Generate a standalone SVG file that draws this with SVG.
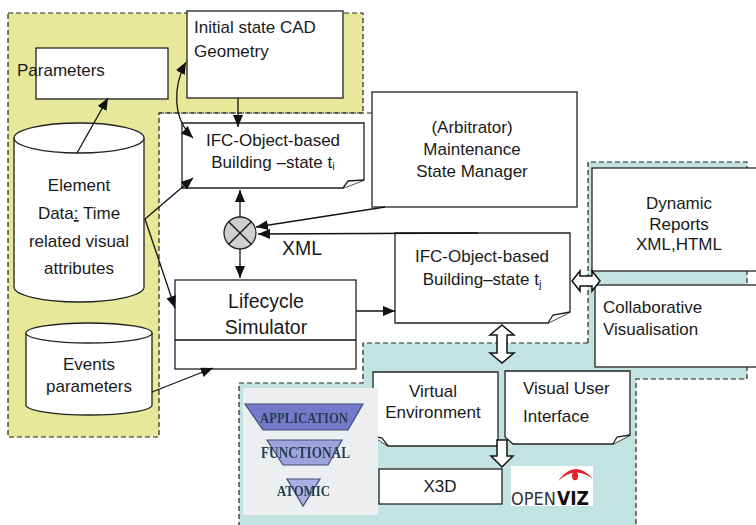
<svg xmlns="http://www.w3.org/2000/svg" width="756" height="525" viewBox="0 0 756 525">
  <style>
    .box { fill: #ffffff; stroke: #222222; stroke-width: 1.3; }
    .zone { stroke: #222222; stroke-width: 1.2; stroke-dasharray: 5 3; }
    .dash { fill: none; stroke: #222222; stroke-width: 1.2; stroke-dasharray: 5 3; }
    .wire { fill: none; stroke: #111111; stroke-width: 1.3; }
    .hollow { fill: #ffffff; stroke: #111111; stroke-width: 1.5; stroke-linejoin: miter; }
    .t { font-family: "Liberation Sans", Arial, sans-serif; font-size: 17px; fill: #1a1a1a; }
    .tc { text-anchor: middle; }
    .big { font-size: 19.5px; }
    .layer { font-family: "Liberation Serif", "Times New Roman", serif; font-weight: bold; fill: #23404f; }
    .logo { font-family: "DejaVu Sans Condensed", "Liberation Sans", sans-serif; }
  </style>
  <defs>
    <marker id="arrow" viewBox="0 0 12 10" markerWidth="12" markerHeight="10" markerUnits="userSpaceOnUse" refX="12" refY="5" orient="auto-start-reverse">
      <path d="M0,0 L12,5 L0,10 Z" fill="#111111"/>
    </marker>
    <filter id="soft" x="-5%" y="-5%" width="110%" height="110%">
      <feGaussianBlur stdDeviation="0.6"/>
    </filter>
  </defs>

  <rect x="0" y="0" width="756" height="525" fill="#ffffff"/>

  <!-- zones -->
  <g id="zones">
    <polygon class="zone" fill="#e8e89a" points="8,13 363,13 363,113 159,113 159,437 8,437"/>
    <polygon fill="#c2e3e1" points="588,162 747,162 747,379 636,379 636,525 239,525 239,383 363,383 363,343 588,343"/>
    <polyline class="dash" points="159,113 372,113"/>
    <polyline class="dash" points="588,343 588,162 747,162 747,379 636,379 636,525"/>
    <polyline class="dash" points="588,343 363,343 363,383 239,383 239,525"/>
  </g>

  <!-- nodes -->
  <g id="parameters">
    <rect class="box" x="36" y="48" width="132" height="51"/>
    <text class="t" x="17" y="76">Parameters</text>
  </g>

  <g id="initial-cad">
    <rect class="box" x="187" y="11" width="156" height="87"/>
    <text class="t" x="194" y="33">Initial state CAD</text>
    <text class="t" x="194" y="57">Geometry</text>
  </g>

  <g id="ifc-ti">
    <path class="box" d="M182,123 H364 V180 L343,188 H182 Z"/>
    <path class="box" d="M343,188 L348,181 L364,180"/>
    <text class="t tc" x="273" y="146" font-size="16.5">IFC-Object-based</text>
    <text class="t tc" x="273" y="168" font-size="16.5">Building –state t<tspan font-size="11" dy="2">i</tspan></text>
  </g>

  <g id="element-data">
    <path class="box" d="M14,138 V287 A65,15 0 0 0 144,287 V138"/>
    <ellipse class="box" cx="79" cy="138" rx="65" ry="15"/>
    <text class="t tc" x="79" y="191">Element</text>
    <text class="t tc" x="79" y="219">Data<tspan text-decoration="underline">:</tspan> Time</text>
    <text class="t tc" x="79" y="247">related visual</text>
    <text class="t tc" x="79" y="274">attributes</text>
  </g>

  <g id="events">
    <path class="box" d="M26,333 V405 A63,10 0 0 0 152,405 V333"/>
    <ellipse class="box" cx="89" cy="333" rx="63" ry="10"/>
    <text class="t tc" x="89" y="370">Events</text>
    <text class="t tc" x="89" y="392">parameters</text>
  </g>

  <g id="lifecycle">
    <rect class="box" x="175" y="280" width="181" height="89"/>
    <line class="wire" x1="175" y1="340" x2="356" y2="340"/>
    <text class="t tc big" x="266" y="308">Lifecycle</text>
    <text class="t tc big" x="266" y="334">Simulator</text>
  </g>

  <g id="mixer">
    <circle cx="240" cy="233" r="16" fill="#cfcfcf" stroke="#222222" stroke-width="1.3"/>
    <path class="wire" d="M228.7,221.7 L251.3,244.3 M251.3,221.7 L228.7,244.3"/>
  </g>

  <g id="arbitrator">
    <rect class="box" x="372" y="92" width="205" height="115"/>
    <text class="t tc" x="472" y="133">(Arbitrator)</text>
    <text class="t tc" x="472" y="155">Maintenance</text>
    <text class="t tc" x="472" y="177">State Manager</text>
  </g>

  <g id="ifc-tj">
    <path class="box" d="M395,233 H570 V312 L548,323 H395 Z"/>
    <path class="box" d="M548,323 L553,315 L570,312"/>
    <text class="t tc" x="482" y="262" font-size="16.5">IFC-Object-based</text>
    <text class="t tc" x="482" y="285" font-size="16.5">Building–state t<tspan font-size="11" dy="3">j</tspan></text>
  </g>

  <g id="dynamic-reports">
    <rect class="box" x="592" y="168" width="170" height="103"/>
    <text class="t tc" x="679" y="209">Dynamic</text>
    <text class="t tc" x="679" y="230">Reports</text>
    <text class="t tc" x="679" y="250">XML,HTML</text>
  </g>

  <g id="collaborative">
    <rect class="box" x="595" y="285" width="167" height="82"/>
    <text class="t" x="603" y="313">Collaborative</text>
    <text class="t" x="603" y="335">Visualisation</text>
  </g>

  <g id="virtual-environment">
    <path class="box" d="M373,372 H498 V446 H388 L373,436 Z"/>
    <path class="box" d="M373,436 L382,438 L388,446"/>
    <text class="t tc" x="433" y="397">Virtual</text>
    <text class="t tc" x="433" y="418">Environment</text>
  </g>

  <g id="visual-ui">
    <path class="box" d="M505,371 H630 V435 L613,444 H513 L505,437 Z"/>
    <path class="box" d="M613,444 L617,437 L630,435"/>
    <text class="t" x="523" y="394">Visual User</text>
    <text class="t" x="523" y="422">Interface</text>
  </g>

  <g id="x3d">
    <rect class="box" x="379" y="469" width="123" height="35"/>
    <text class="t tc" x="440" y="492">X3D</text>
  </g>

  <g id="openviz">
    <rect x="511" y="466" width="82" height="40" fill="#ffffff"/>
    <path d="M558,481 Q575,458 593,479 Q575,465 558,481 Z" fill="#e0242a"/>
    <ellipse cx="575" cy="476" rx="3" ry="4.2" fill="#e0242a"/>
    <text class="logo" x="511" y="505" font-size="18" fill="#333333">OPEN</text>
    <text class="logo" x="557" y="505" font-size="19" font-weight="bold" fill="#111111">VIZ</text>
  </g>

  <g id="layers" filter="url(#soft)">
    <rect x="243" y="388" width="135" height="127" fill="#eceef0"/>
    <polygon points="245,404 363,404 348,430 263,430" fill="#7479c9" stroke="#3c4d7c" stroke-width="1.2"/>
    <polygon points="267,440 342,440 328,465 283,465" fill="#9ea2dd" stroke="#3c4d7c" stroke-width="1.2"/>
    <polygon points="287,479 320,479 303,506" fill="#abafe2" stroke="#3c4d7c" stroke-width="1.2"/>
    <text class="layer" x="260" y="423" font-size="15" textLength="88" lengthAdjust="spacingAndGlyphs">APPLICATION</text>
    <text class="layer" x="261" y="458" font-size="16" textLength="89" lengthAdjust="spacingAndGlyphs">FUNCTIONAL</text>
    <text class="layer" x="277" y="496" font-size="15" textLength="53" lengthAdjust="spacingAndGlyphs">ATOMIC</text>
  </g>

  <!-- connectors -->
  <g id="connectors">
    <path class="wire" d="M77,153 L108,98" marker-end="url(#arrow)"/>
    <path class="wire" d="M186,62 C173,86 172,118 193,138" marker-start="url(#arrow)" marker-end="url(#arrow)"/>
    <path class="wire" d="M238,98 L238,127" marker-end="url(#arrow)"/>
    <path class="wire" d="M145,219 L193,178" marker-end="url(#arrow)"/>
    <path class="wire" d="M145,219 L175,308" marker-end="url(#arrow)"/>
    <path class="wire" d="M240,217 L240,190" marker-end="url(#arrow)"/>
    <path class="wire" d="M240,249 L240,278" marker-end="url(#arrow)"/>
    <path class="wire" d="M385,207 L256,227" marker-end="url(#arrow)"/>
    <path class="wire" d="M478,233 L258,234" marker-end="url(#arrow)"/>
    <text class="t big" x="282" y="255">XML</text>
    <path class="wire" d="M356,311 L395,311" marker-end="url(#arrow)"/>
    <path class="wire" d="M152,392 L213,368" marker-end="url(#arrow)"/>
    <polygon class="hollow" points="572,281 580,271 580,276 592,276 592,271 600,281 592,291 592,286 580,286 580,291"/>
    <polygon class="hollow" points="502,325 514,335 507,335 507,353 514,353 502,363 490,353 497,353 497,335 490,335"/>
    <polygon class="hollow" points="497,440 507,440 507,456 513,456 502,467 491,456 497,456"/>
  </g>
</svg>
